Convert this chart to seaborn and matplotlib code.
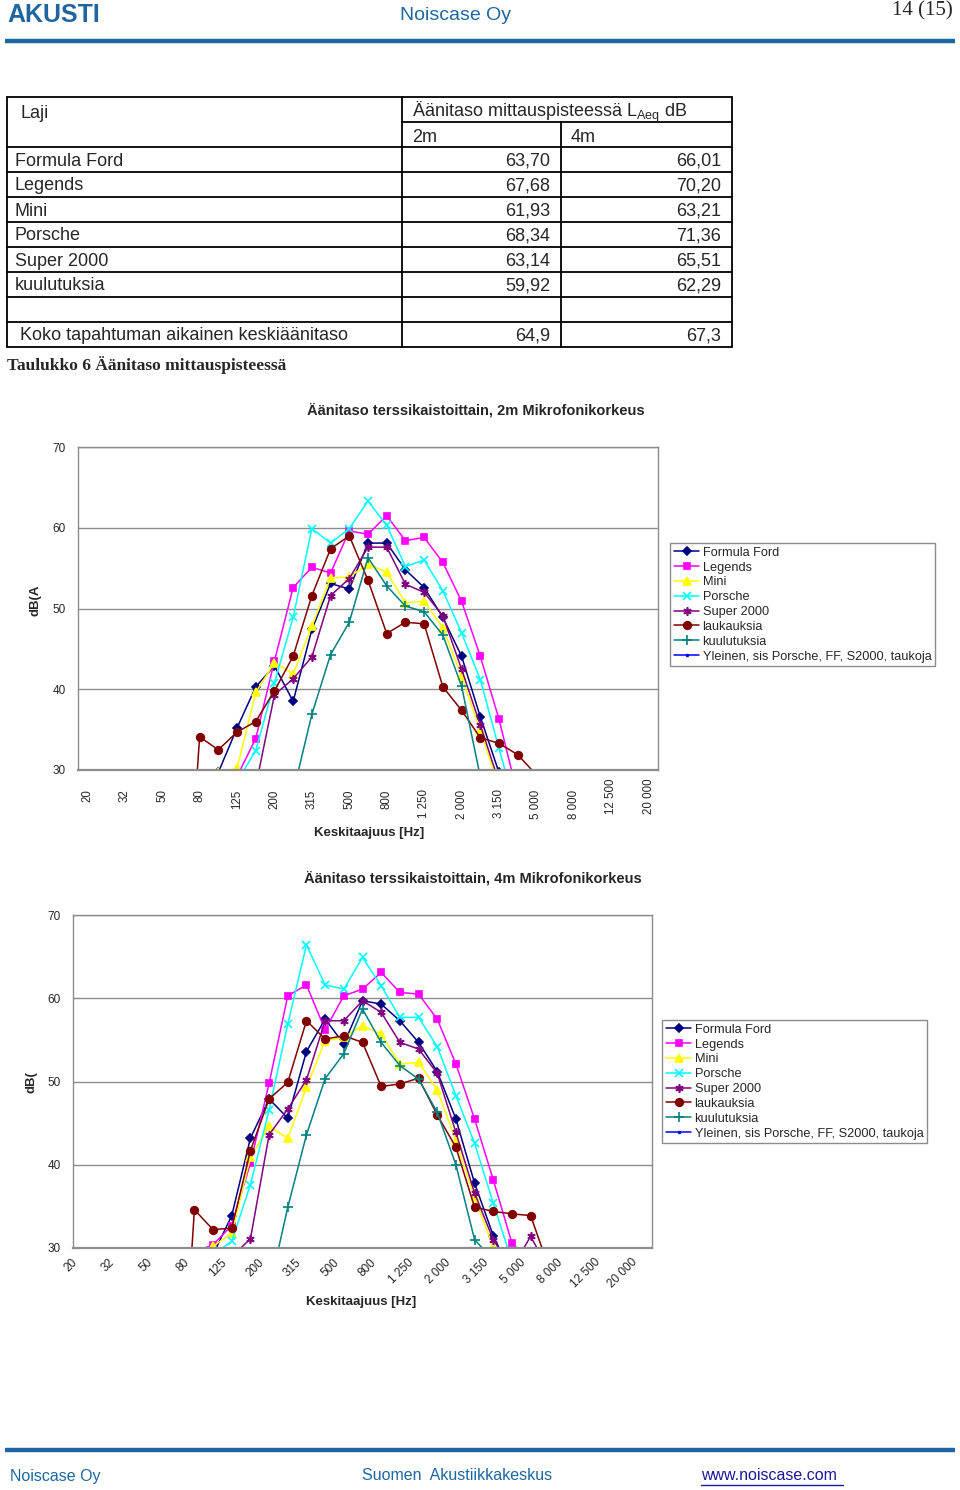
import numpy as np
import matplotlib
matplotlib.use("Agg")
import matplotlib.pyplot as plt
import matplotlib.transforms as mtransforms
import seaborn as sns

nan = np.nan

# terssikaistat 20 Hz ... 20 kHz
bands = ["20", "25", "32", "40", "50", "63", "80", "100", "125", "160",
         "200", "250", "315", "400", "500", "630", "800", "1 000", "1 250", "1 600",
         "2 000", "2 500", "3 150", "4 000", "5 000", "6 300", "8 000", "10 000",
         "12 500", "16 000", "20 000"]

series_names = ["Formula Ford", "Legends", "Mini", "Porsche", "Super 2000",
                "laukauksia", "kuulutuksia", "Yleinen, sis Porsche, FF, S2000, taukoja"]

# 2 m mikrofonikorkeus, dB(A) per kaista
ff_2m = [nan, nan, nan, nan, nan, nan, nan, 29.7, 35.2, 40.3, 42.9, 38.5, 47.4, 53.1, 52.4, 58.1,
         58.1, 54.8, 52.6, 48.9, 44.1, 36.6, 29.7, nan, nan, nan, nan, nan, nan, nan, nan]
legends_2m = [nan, nan, nan, nan, nan, nan, nan, nan, 29.2, 33.9, 43.5, 52.6, 55.1, 54.4, 59.6, 59.2,
              61.5, 58.4, 58.8, 55.7, 50.9, 44.1, 36.3, 26.9, nan, nan, nan, nan, nan, nan, nan]
mini_2m = [nan, nan, nan, nan, nan, nan, nan, 29.7, 30.2, 39.6, 43.3, 41.9, 47.8, 53.8, 53.9, 55.5,
           54.5, 50.7, 50.9, 47.6, 41.6, 34.9, 27.9, nan, nan, nan, nan, nan, nan, nan, nan]
porsche_2m = [nan, nan, nan, nan, nan, nan, nan, nan, 28.6, 32.4, 40.8, 48.9, 59.9, 58.1, 59.9, 63.3,
              60.3, 55.2, 56.0, 52.2, 47.0, 41.2, 32.7, 24.3, nan, nan, nan, nan, nan, nan, nan]
s2000_2m = [nan, nan, nan, nan, nan, nan, nan, nan, nan, 28.0, 39.3, 41.3, 44.0, 51.6, 53.7, 57.6,
            57.6, 53.0, 52.0, 49.1, 42.5, 35.6, 28.5, nan, nan, nan, nan, nan, nan, nan, nan]
lauk_2m = [nan, nan, nan, nan, nan, 0.0, 34.1, 32.5, 34.7, 36.0, 39.8, 44.1, 51.6, 57.4, 59.0, 53.5,
           46.9, 48.3, 48.1, 40.3, 37.4, 34.0, 33.3, 31.9, 29.4, nan, nan, nan, nan, nan, nan]
kuul_2m = [nan, nan, nan, nan, nan, nan, nan, nan, nan, nan, nan, 27.2, 36.9, 44.3, 48.3, 56.3,
           52.8, 50.3, 49.6, 46.7, 40.4, 29.2, nan, nan, nan, nan, nan, nan, nan, nan, nan]
yleinen_2m = [nan] * len(bands)

# 4 m mikrofonikorkeus
ff_4m = [nan, nan, nan, nan, nan, nan, nan, 29.2, 33.9, 43.2, 47.9, 45.6, 53.6, 57.5, 54.5, 59.7,
         59.3, 57.3, 54.7, 51.2, 45.5, 37.8, 31.5, 26.7, nan, nan, nan, nan, nan, nan, nan]
legends_4m = [nan, nan, nan, nan, nan, nan, 29.5, 30.4, 32.7, 40.2, 49.8, 60.3, 61.6, 56.2, 60.3, 61.1,
              63.1, 60.7, 60.5, 57.5, 52.1, 45.5, 38.2, 30.6, 28.3, nan, nan, nan, nan, nan, nan]
mini_4m = [nan, nan, nan, nan, nan, nan, 29.2, 30.2, 31.8, 40.9, 44.6, 43.2, 49.3, 54.9, 55.3, 56.7,
           55.7, 52.1, 52.3, 49.0, 42.9, 36.1, 30.1, 25.0, nan, nan, nan, nan, nan, nan, nan]
porsche_4m = [nan, nan, nan, nan, nan, nan, nan, 29.2, 30.8, 37.6, 46.6, 56.9, 66.4, 61.6, 61.1, 64.9,
              61.5, 57.7, 57.7, 54.2, 48.3, 42.6, 35.4, 28.4, nan, nan, nan, nan, nan, nan, nan]
s2000_4m = [nan, nan, nan, nan, nan, nan, nan, nan, 29.0, 31.1, 43.6, 46.7, 50.2, 57.3, 57.3, 59.7,
            58.3, 54.7, 53.9, 51.0, 43.9, 36.6, 31.0, 27.5, 31.4, 27.3, nan, nan, nan, nan, nan]
lauk_4m = [nan, nan, nan, nan, nan, 0.0, 34.6, 32.2, 32.4, 41.7, 47.9, 49.9, 57.3, 55.1, 55.5, 54.7,
           49.4, 49.7, 50.4, 46.0, 42.1, 34.9, 34.4, 34.1, 33.9, 27.5, nan, nan, nan, nan, nan]
kuul_4m = [nan, nan, nan, nan, nan, nan, nan, nan, nan, nan, 24.9, 34.9, 43.6, 50.35, 53.35, 58.7,
           54.7, 51.9, 50.3, 46.3, 40.0, 31.0, 28.6, nan, nan, nan, nan, nan, nan, nan, nan]
yleinen_4m = [nan] * len(bands)

# taulukko
lajit = ["Formula Ford", "Legends", "Mini", "Porsche", "Super 2000", "kuulutuksia"]
taso_2m = [63.70, 67.68, 61.93, 68.34, 63.14, 59.92]
taso_4m = [66.01, 70.20, 63.21, 71.36, 65.51, 62.29]
keski_2m = 64.9
keski_4m = 67.3

colors = ["#000080", "#FF00FF", "#FFFF00", "#00FFFF", "#800080", "#800000", "#008080", "#0000FF"]
markers = ["D", "s", "^", "x", (6, 2, 0), "o", "+", "."]
msizes = [4, 5, 5.5, 5.5, 6, 5.5, 7, 3]

BLUE = "#1f66a0"
GRID = "#8c8c8c"


def fi(v, d):
    return f"{v:.{d}f}".replace(".", ",")


def draw_chart(fig, rect, data, rot):
    ax = fig.add_axes(rect)
    x = np.arange(len(bands))
    for name, vals, col, mk, ms in zip(series_names, data, colors, markers, msizes):
        if np.all(np.isnan(vals)):
            ax.plot(x, vals, color=col, marker=mk, markersize=ms, lw=1.1, label=name)
            continue
        sns.lineplot(x=x, y=vals, ax=ax, color=col, marker=mk, markersize=ms,
                     markeredgecolor=col, markerfacecolor=col, markeredgewidth=1.2,
                     linewidth=1.1, label=name, legend=False)
    ax.set_xlim(-0.5, len(bands) - 0.5)
    ax.set_ylim(30, 70)
    ax.set_yticks([30, 40, 50, 60, 70])
    ax.set_yticklabels(["30", "40", "50", "60", "70"], fontsize=8.5)
    ax.yaxis.grid(True, color=GRID, lw=1)
    ax.xaxis.grid(False)
    ax.set_axisbelow(True)
    for s in ax.spines.values():
        s.set_color(GRID)
        s.set_linewidth(1)
    ax.spines["bottom"].set_linewidth(1.6)
    ax.set_xticks(x[::2])
    ax.set_xticks(np.arange(-0.5, len(bands), 1), minor=True)
    ax.tick_params(axis="y", length=3, color=GRID, pad=6)
    ax.tick_params(axis="x", which="minor", length=3, color=GRID, direction="out")
    ax.set_xlabel("")
    ax.set_ylabel("")
    if rot == 90:
        ax.set_xticklabels(bands[::2], rotation=90, fontsize=8.3, va="top", ha="center")
        ax.tick_params(axis="x", which="major", length=0, pad=14)
        up = mtransforms.ScaledTranslation(0, 0.11, fig.dpi_scale_trans)
        for lbl in ax.get_xticklabels()[-2:]:
            lbl.set_transform(lbl.get_transform() + up)
    else:
        ax.set_xticklabels(bands[::2], rotation=45, fontsize=8.5, ha="right", va="top",
                           rotation_mode="anchor")
        ax.tick_params(axis="x", which="major", length=0, pad=6)
        left = mtransforms.ScaledTranslation(-0.11, 0, fig.dpi_scale_trans)
        for lbl in ax.get_xticklabels():
            lbl.set_transform(lbl.get_transform() + left)
    return ax


sns.set_style("white")
plt.rcParams["font.family"] = ["Liberation Sans", "DejaVu Sans"]

fig = plt.figure(figsize=(9.6, 14.9), dpi=100)
page = fig.add_axes([0, 0, 1, 1])
page.set_xlim(0, 960)
page.set_ylim(1490, 0)
page.axis("off")

# ylä- ja alatunniste
page.plot([5, 955], [41, 41], color=BLUE, lw=3.2, solid_capstyle="butt")
page.plot([5, 955], [1450, 1450], color=BLUE, lw=3.2, solid_capstyle="butt")
page.text(7, 15, "AKUSTI", fontsize=18, fontweight="bold", color=BLUE, va="center")
page.text(455, 16, "Noiscase Oy", fontsize=14, color=BLUE, va="center", ha="center")
page.text(953, 11, "14 (15)", fontsize=15, family=["Liberation Serif"], va="center", ha="right")
page.text(10, 1476, "Noiscase Oy", fontsize=11.5, color=BLUE, va="center")
page.text(362, 1476, "Suomen  Akustiikkakeskus", fontsize=11.5, color=BLUE, va="center")
page.text(701, 1476, "www.noiscase.com", fontsize=11.5, color="#1a1a9c", va="center")
page.plot([701, 843], [1485, 1485], color="#1a1a9c", lw=1)

# taulukko
lw = 1.3
page.plot([7, 732], [97, 97], color="black", lw=lw)
page.plot([402, 732], [122, 122], color="black", lw=lw)
for k in range(len(lajit) + 3):
    y = 147 + 25 * k
    page.plot([7, 732], [y, y], color="black", lw=lw)
page.plot([7, 7], [97, 347], color="black", lw=lw)
page.plot([402, 402], [97, 347], color="black", lw=lw)
page.plot([561, 561], [122, 347], color="black", lw=lw)
page.plot([732, 732], [97, 347], color="black", lw=lw)

tfs = 13
page.text(20, 113, "Laji", fontsize=tfs, va="center")
page.text(412, 112, r"Äänitaso mittauspisteessä L$_\mathregular{Aeq}$ dB", fontsize=tfs, va="center")
page.text(412, 137, "2m", fontsize=tfs, va="center")
page.text(571, 137, "4m", fontsize=tfs, va="center")
for k, (nm, a, b) in enumerate(zip(lajit, taso_2m, taso_4m)):
    y = 161 + 25 * k
    page.text(15, y, nm, fontsize=tfs, va="center")
    page.text(550, y, fi(a, 2), fontsize=tfs, va="center", ha="right")
    page.text(721, y, fi(b, 2), fontsize=tfs, va="center", ha="right")
page.text(20, 336, "Koko tapahtuman aikainen keskiäänitaso", fontsize=tfs, va="center")
page.text(550, 336, fi(keski_2m, 1), fontsize=tfs, va="center", ha="right")
page.text(721, 336, fi(keski_4m, 1), fontsize=tfs, va="center", ha="right")
page.text(7, 365, "Taulukko 6 Äänitaso mittauspisteessä", fontsize=12.5, fontweight="bold",
          family=["Liberation Serif"], va="center")

# kaaviot
data_2m = [ff_2m, legends_2m, mini_2m, porsche_2m, s2000_2m, lauk_2m, kuul_2m, yleinen_2m]
data_4m = [ff_4m, legends_4m, mini_4m, porsche_4m, s2000_4m, lauk_4m, kuul_4m, yleinen_4m]

charts = [
    (data_2m, [78, 447, 658, 770], 90, "Äänitaso terssikaistoittain, 2m Mikrofonikorkeus",
     (476, 410), "dB(A", (36, 600), (369, 833), (670, 543)),
    (data_4m, [73, 915, 652, 1248], 45, "Äänitaso terssikaistoittain, 4m Mikrofonikorkeus",
     (473, 878), "dB(", (31, 1082), (361, 1302), (662, 1020)),
]

for data, (x0, y0, x1, y1), rot, title, tpos, ylab, ypos, xpos, lpos in charts:
    rect = [x0 / 960, 1 - y1 / 1490, (x1 - x0) / 960, (y1 - y0) / 1490]
    ax = draw_chart(fig, rect, data, rot)
    page.text(tpos[0], tpos[1], title, fontsize=10.5, fontweight="bold", ha="center", va="center")
    page.text(ypos[0], ypos[1], ylab, fontsize=9.5, fontweight="bold", ha="center", va="center",
              rotation=90)
    page.text(xpos[0], xpos[1], "Keskitaajuus [Hz]", fontsize=9.5, fontweight="bold",
              ha="center", va="center")
    handles, labels = ax.get_legend_handles_labels()
    leg = ax.legend(handles, labels, loc="upper left",
                    bbox_to_anchor=(lpos[0] / 960, 1 - lpos[1] / 1490),
                    bbox_transform=fig.transFigure, fontsize=9.2, frameon=True,
                    fancybox=False, framealpha=1, edgecolor=GRID, borderpad=0.3,
                    labelspacing=0.22, handlelength=2.0, handletextpad=0.25,
                    borderaxespad=0)
    leg.get_frame().set_linewidth(1)

fig.savefig("out.png", dpi=100)
